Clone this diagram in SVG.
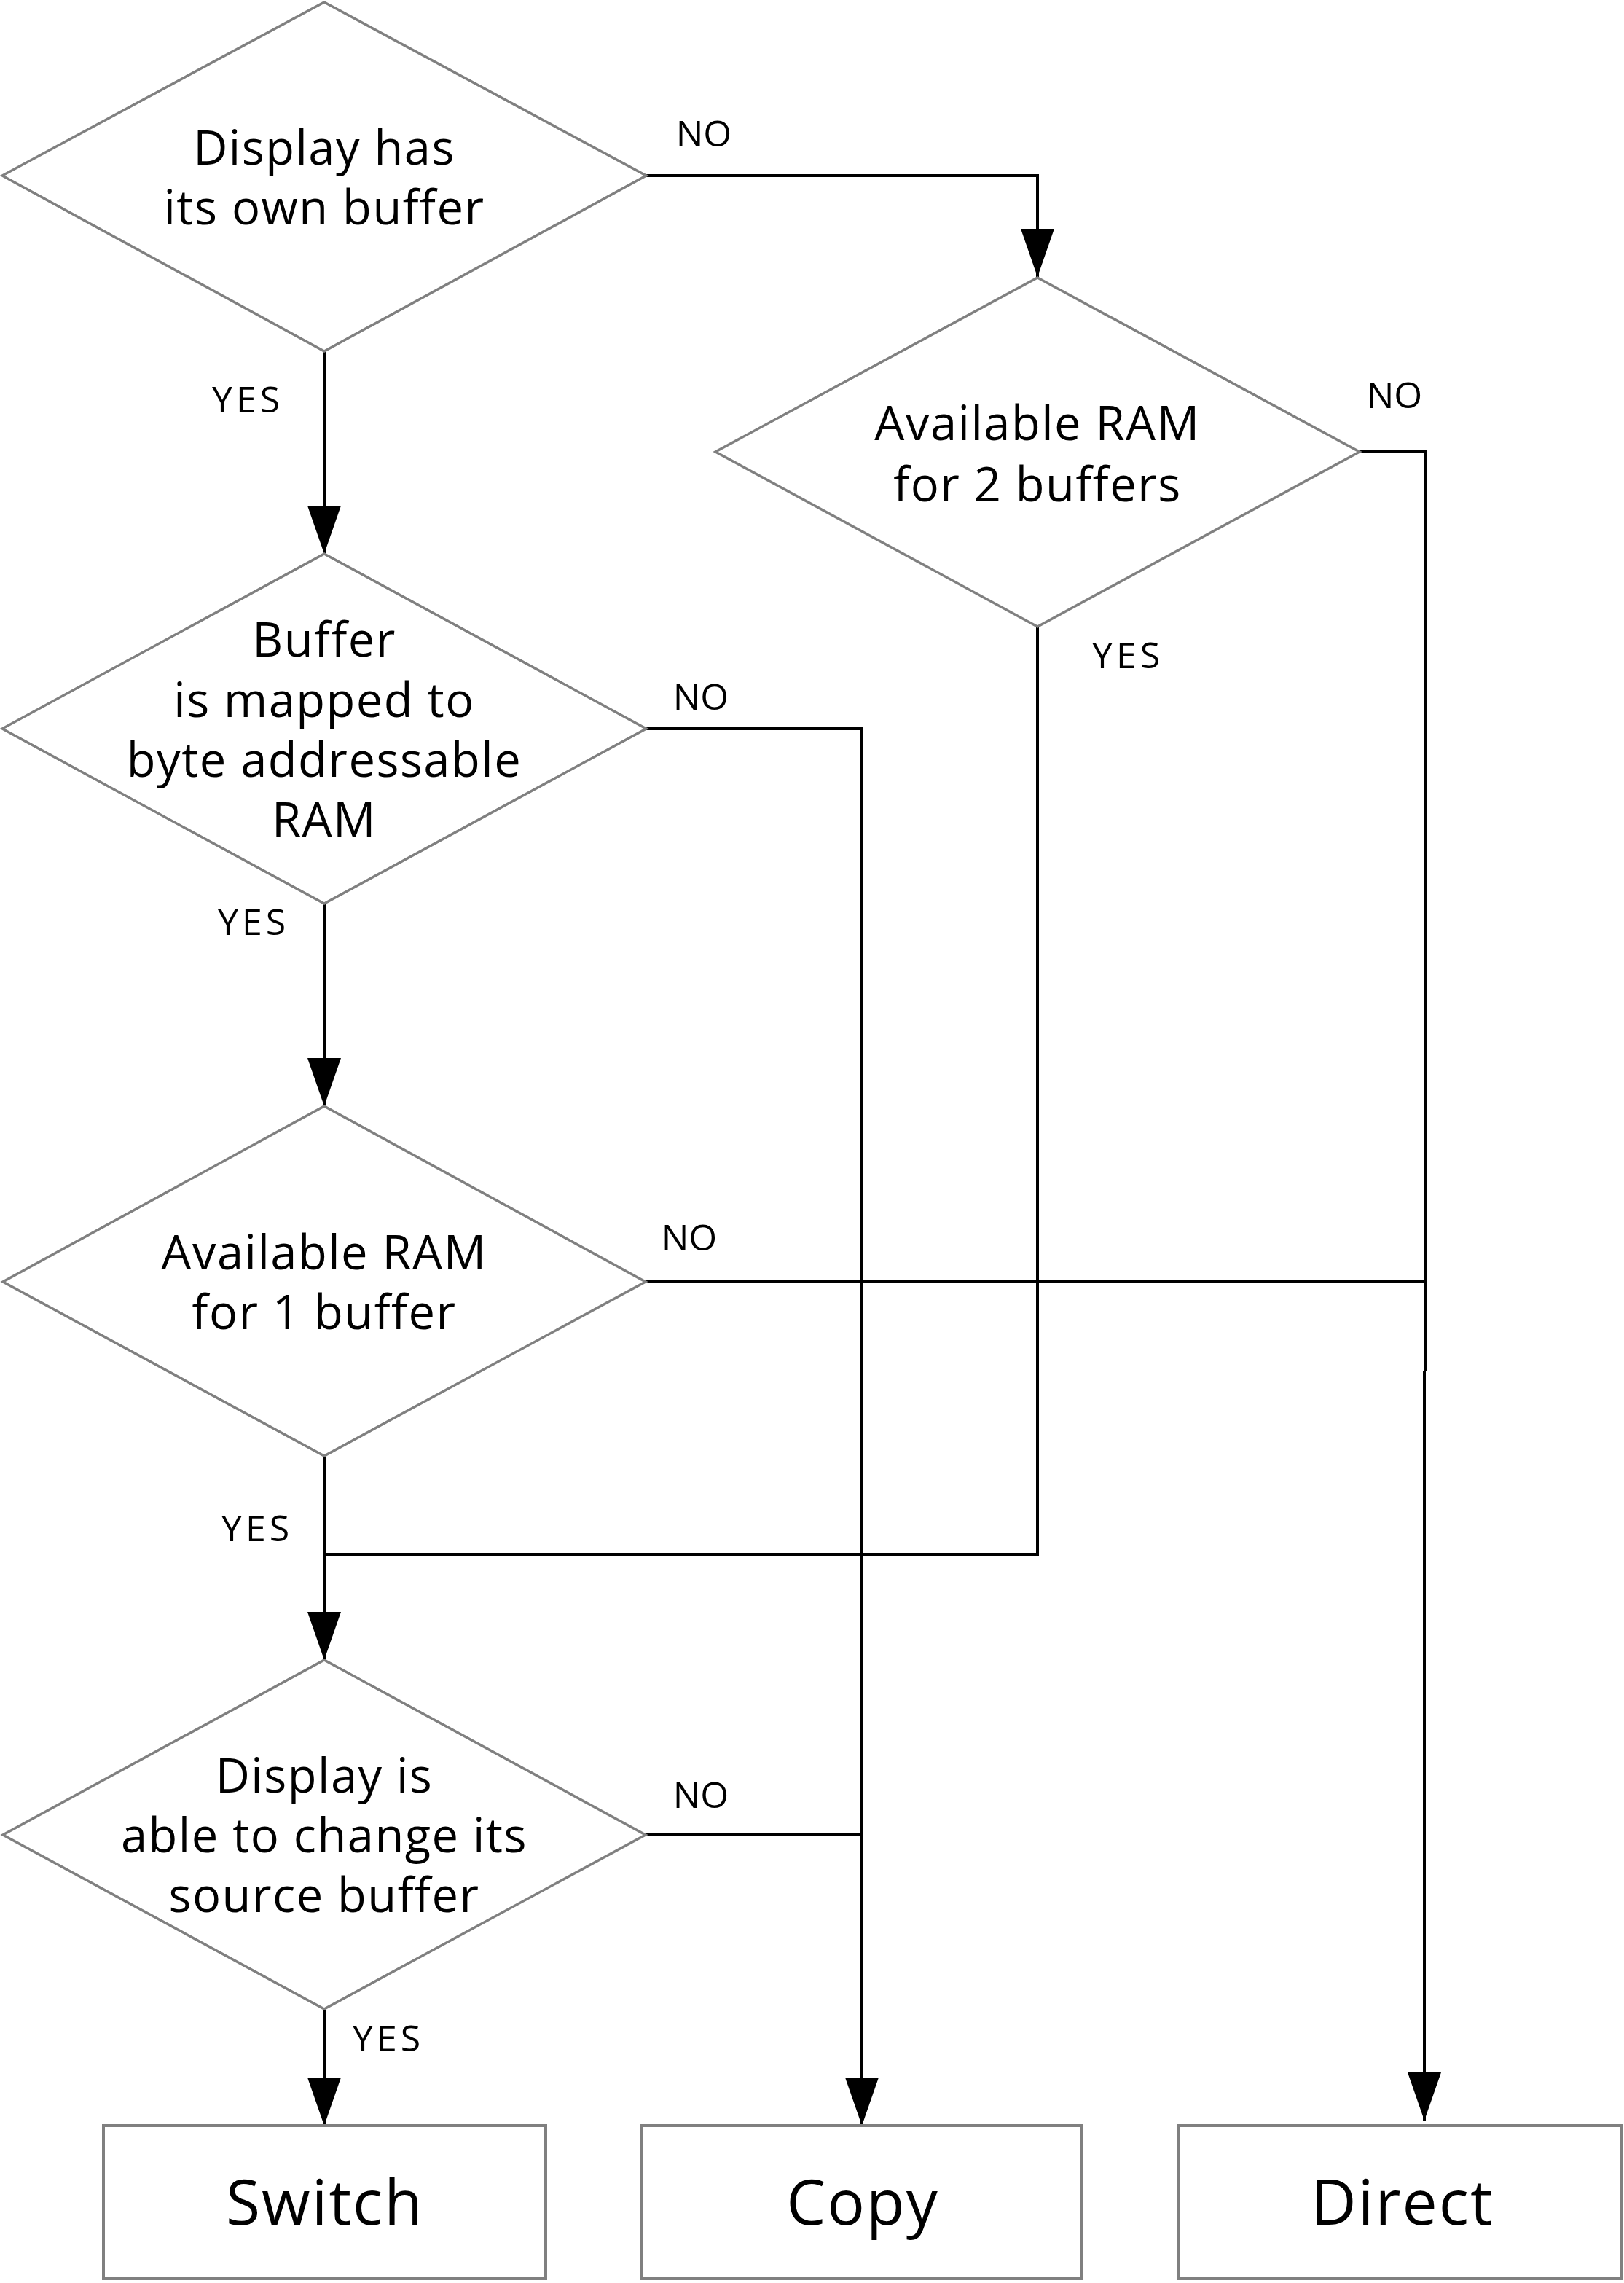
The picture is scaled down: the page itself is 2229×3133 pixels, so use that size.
<svg xmlns="http://www.w3.org/2000/svg" width="2229" height="3133" viewBox="0 0 2229 3133">
<style>
.shape{fill:#ffffff;stroke:#808080;stroke-width:3.5}
.box{fill:#ffffff;stroke:#808080;stroke-width:4}
.t{font-family:"Open Sans","Noto Sans","Liberation Sans",sans-serif;font-size:65px;letter-spacing:1.5px;fill:#000;text-anchor:middle}
.bt{font-family:"Open Sans","Noto Sans","Liberation Sans",sans-serif;font-size:86px;letter-spacing:2px;fill:#000;text-anchor:middle}
.lbl{font-family:"Open Sans","Noto Sans","Liberation Sans",sans-serif;font-size:50px;fill:#000;text-anchor:middle}
.yes{letter-spacing:5px}
.c{fill:none;stroke:#000;stroke-width:4}
</style>
<defs>
<marker id="arr" viewBox="0 0 66 46" refX="66" refY="23" markerWidth="66" markerHeight="46" markerUnits="userSpaceOnUse" orient="auto">
<path d="M0,0 L66,23 L0,46 Z" fill="#000"/>
</marker>
</defs>
<rect width="2229" height="3133" fill="#ffffff"/>
<g id="connectors">
<path class="c" d="M887,241 H1424 V380" marker-end="url(#arr)"/>
<path class="c" d="M445,482 V760" marker-end="url(#arr)"/>
<path class="c" d="M1866,620 H1956 V1881"/>
<path class="c" d="M1955,1881 V2910" marker-end="url(#arr)"/>
<path class="c" d="M1424,860 V2133 H445"/>
<path class="c" d="M887,1000 H1183 V2917" marker-end="url(#arr)"/>
<path class="c" d="M445,1240 V1518" marker-end="url(#arr)"/>
<path class="c" d="M886,1759 H1955"/>
<path class="c" d="M445,1998 V2278" marker-end="url(#arr)"/>
<path class="c" d="M886,2518 H1183"/>
<path class="c" d="M445,2757 V2917" marker-end="url(#arr)"/>
<text class="lbl" x="966" y="201">NO</text>
<text class="lbl yes" x="340" y="566">YES</text>
<text class="lbl" x="1914" y="560">NO</text>
<text class="lbl yes" x="1548" y="917">YES</text>
<text class="lbl" x="962" y="974">NO</text>
<text class="lbl yes" x="348" y="1283">YES</text>
<text class="lbl" x="946" y="1716">NO</text>
<text class="lbl yes" x="353" y="2115">YES</text>
<text class="lbl" x="962" y="2481">NO</text>
<text class="lbl yes" x="533" y="2815">YES</text>
</g>
<g id="d1">
<polygon class="shape" points="445,3 887,241 445,482 3,241"/>
<text class="t" x="445" y="226">Display has</text>
<text class="t" x="445" y="308">its own buffer</text>
</g>
<g id="d2">
<polygon class="shape" points="1424,381 1866,620 1424,860 982,620"/>
<text class="t" x="1424" y="604">Available RAM</text>
<text class="t" x="1424" y="688">for 2 buffers</text>
</g>
<g id="d-buffer">
<polygon class="shape" points="445,760 887,1000 445,1240 3,1000"/>
<text class="t" x="445" y="901">Buffer</text>
<text class="t" x="445" y="984">is mapped to</text>
<text class="t" x="445" y="1066">byte addressable</text>
<text class="t" x="445" y="1148">RAM</text>
</g>
<g id="d3">
<polygon class="shape" points="445,1518 886,1759 445,1998 4,1759"/>
<text class="t" x="445" y="1742">Available RAM</text>
<text class="t" x="445" y="1824">for 1 buffer</text>
</g>
<g id="d4">
<polygon class="shape" points="445,2278 886,2518 445,2757 4,2518"/>
<text class="t" x="445" y="2460">Display is</text>
<text class="t" x="445" y="2542">able to change its</text>
<text class="t" x="445" y="2624">source buffer</text>
</g>
<g id="switch">
<rect class="box" x="142" y="2917" width="607" height="210"/>
<text class="bt" x="446" y="3053">Switch</text>
</g>
<g id="copy">
<rect class="box" x="880" y="2917" width="605" height="210"/>
<text class="bt" x="1184" y="3053">Copy</text>
</g>
<g id="direct">
<rect class="box" x="1618" y="2917" width="607" height="210"/>
<text class="bt" x="1925" y="3053">Direct</text>
</g>
</svg>
